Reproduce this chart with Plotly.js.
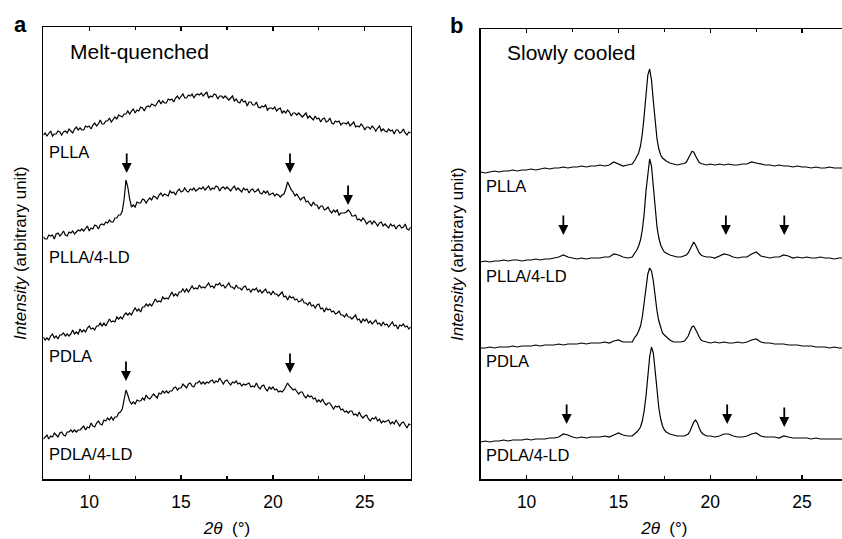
<!DOCTYPE html>
<html>
<head>
<meta charset="utf-8">
<script src="https://cdn.plot.ly/plotly-3.0.1.min.js"></script>
<style>
html,body{margin:0;padding:0;overflow:hidden;background:#fff;}
#chart{width:850px;height:539px;}
</style>
</head>
<body>
<div id="chart"></div>
<script>
// ---------- Panel a : melt-quenched (2θ in degrees, intensity in arbitrary units) ----------
const xa = [7.5,7.6,7.7,7.8,7.9,
 8.0,8.1,8.2,8.3,8.4,8.5,8.6,8.7,8.8,8.9,
 9.0,9.1,9.2,9.3,9.4,9.5,9.6,9.7,9.8,9.9,
 10.0,10.1,10.2,10.3,10.4,10.5,10.6,10.7,10.8,10.9,
 11.0,11.1,11.2,11.3,11.4,11.5,11.6,11.7,11.8,11.9,
 12.0,12.1,12.2,12.3,12.4,12.5,12.6,12.7,12.8,12.9,
 13.0,13.1,13.2,13.3,13.4,13.5,13.6,13.7,13.8,13.9,
 14.0,14.1,14.2,14.3,14.4,14.5,14.6,14.7,14.8,14.9,
 15.0,15.1,15.2,15.3,15.4,15.5,15.6,15.7,15.8,15.9,
 16.0,16.1,16.2,16.3,16.4,16.5,16.6,16.7,16.8,16.9,
 17.0,17.1,17.2,17.3,17.4,17.5,17.6,17.7,17.8,17.9,
 18.0,18.1,18.2,18.3,18.4,18.5,18.6,18.7,18.8,18.9,
 19.0,19.1,19.2,19.3,19.4,19.5,19.6,19.7,19.8,19.9,
 20.0,20.1,20.2,20.3,20.4,20.5,20.6,20.7,20.8,20.9,
 21.0,21.1,21.2,21.3,21.4,21.5,21.6,21.7,21.8,21.9,
 22.0,22.1,22.2,22.3,22.4,22.5,22.6,22.7,22.8,22.9,
 23.0,23.1,23.2,23.3,23.4,23.5,23.6,23.7,23.8,23.9,
 24.0,24.1,24.2,24.3,24.4,24.5,24.6,24.7,24.8,24.9,
 25.0,25.1,25.2,25.3,25.4,25.5,25.6,25.7,25.8,25.9,
 26.0,26.1,26.2,26.3,26.4,26.5,26.6,26.7,26.8,26.9,
 27.0,27.1,27.2,27.3,27.4,27.5];

const aPLLA = [344,346,343,346,348,
 343,345,345,348,347,344,347,348,346,350,
 348,346,350,352,349,351,349,349,353,352,
 353,350,354,356,353,355,359,355,355,358,
 358,361,357,360,362,360,364,363,362,365,
 365,368,365,368,370,366,369,368,372,371,
 368,372,373,372,375,374,373,376,379,375,
 378,376,376,380,379,380,377,381,383,380,
 382,385,381,381,384,383,385,381,384,385,
 384,386,383,385,387,381,383,382,385,384,
 380,383,383,381,383,381,379,381,383,378,
 380,377,376,380,377,378,373,377,377,374,
 374,377,372,371,373,372,374,369,371,371,
 370,372,368,370,371,366,368,366,369,367,
 363,366,366,364,366,364,362,364,366,361,
 363,361,359,363,360,361,357,360,361,357,
 358,361,356,355,358,357,358,354,356,356,
 355,357,353,355,357,352,353,352,355,353,
 349,352,352,350,353,351,348,351,353,348,
 350,348,347,350,348,349,345,349,349,346,
 347,350,346,344,347,346];

const aPLLA4LD = [242,240,240,244,243,
 244,240,245,246,243,245,248,244,243,247,
 246,248,245,247,249,248,250,248,250,253,
 248,251,250,254,253,250,254,255,254,257,
 256,259,257,257,261,261,264,264,268,280,
 299,292,280,272,274,272,277,276,276,280,
 279,276,279,281,279,283,282,280,284,286,
 283,285,284,283,288,286,287,284,288,290,
 287,288,291,288,287,290,289,291,288,290,
 291,290,292,289,291,293,289,291,290,293,
 292,288,291,292,290,292,290,288,291,293,
 289,291,289,287,291,289,290,286,289,290,
 287,288,290,286,285,288,286,288,284,285,
 286,283,285,284,282,284,285,290,297,293,
 289,287,283,285,282,279,281,282,277,278,
 275,273,277,274,274,270,273,273,269,270,
 272,268,266,269,267,269,264,266,266,266,
 267,269,267,263,263,264,259,260,258,261,
 259,255,257,258,255,258,256,253,256,257,
 253,255,253,251,255,253,254,250,253,254,
 251,252,255,250,249,252];

const aPDLA = [142,139,141,139,143,
 145,141,143,140,144,144,146,143,145,143,
 145,149,145,147,145,150,147,149,147,151,
 153,150,151,149,153,153,156,153,156,153,
 156,160,157,158,157,162,160,162,160,164,
 166,164,166,164,168,171,168,170,167,172,
 172,175,173,175,173,176,180,177,178,177,
 182,180,181,180,184,187,183,185,183,187,
 187,190,187,190,187,190,193,190,191,190,
 194,191,192,191,194,196,192,193,191,195,
 194,196,193,194,191,193,196,192,192,190,
 194,191,191,189,192,193,189,190,187,190,
 189,191,187,189,186,188,190,186,187,184,
 188,185,185,183,185,187,182,183,179,183,
 181,182,179,180,177,178,180,176,176,174,
 177,173,174,171,174,175,170,171,167,171,
 169,170,167,168,165,166,168,164,164,162,
 165,162,162,160,162,164,159,160,156,160,
 158,160,156,158,155,157,159,155,156,153,
 157,154,155,152,155,157,153,154,150,154,
 153,155,152,153,150,152];

const aPDLA4LD = [40,42,44,40,43,
 42,46,44,42,46,47,44,43,47,47,
 49,47,49,47,49,49,51,53,49,52,
 51,56,53,52,56,58,55,54,59,58,
 61,59,62,59,62,62,66,67,70,78,
 89,84,78,75,77,75,79,78,78,81,
 79,84,81,80,83,85,83,81,86,85,
 88,86,88,86,88,88,91,92,89,91,
 91,95,93,91,95,96,93,92,96,96,
 98,95,97,95,97,96,98,99,96,98,
 97,101,98,95,98,99,96,94,97,96,
 98,95,96,93,95,94,95,96,92,93,
 92,96,92,90,93,94,90,88,92,90,
 92,89,90,87,88,87,89,92,96,93,
 91,89,90,87,85,87,87,83,81,84,
 82,83,80,81,77,79,77,80,76,74,
 76,76,73,70,73,72,73,69,70,67,
 68,66,68,68,64,65,63,67,63,61,
 63,64,60,58,61,60,62,58,60,56,
 58,57,58,59,55,57,55,59,56,53,
 56,57,54,51,55,54];

// ---------- Panel b : slowly cooled ----------
const xb = [7.5,7.75,8.0,8.25,8.5,8.75,9.0,9.25,9.5,9.75,10.0,10.25,10.5,10.75,11.0,11.25,11.5,11.75,
 12.0,12.25,12.5,12.75,13.0,13.25,13.5,13.75,14.0,14.25,14.5,14.75,15.0,15.25,15.5,15.75,
 15.9,16.0,16.1,16.2,16.3,16.4,16.5,16.6,16.7,16.8,16.9,17.0,17.1,17.2,17.3,17.4,17.5,17.6,
 17.8,18.0,18.2,18.4,
 18.6,18.7,18.8,18.9,19.0,19.1,19.2,19.3,19.4,19.5,19.6,
 19.8,20.0,20.25,20.5,20.75,21.0,21.25,21.5,21.75,22.0,22.25,22.5,22.75,23.0,23.25,23.5,23.75,
 24.0,24.25,24.5,24.75,25.0,25.25,25.5,25.75,26.0,26.25,26.5,26.75,27.0,27.25];

const bPLLA = [307,306,307,308,307,308,308,309,308,309,309,310,309,310,311,310,311,311,
 312,311,312,312,313,312,313,313,314,313,314,317,315,313,314,315,
 319,322,326,333,345,363,386,404,410,399,378,356,340,330,324,321,319,318,
 316,315,314,315,
 315.5,317,320,324,327.5,327,323,319,316.5,315.5,315,
 314,315,314,315,314,315,314,314,315,315,317,316,315,314,314,313,314,
 313,313,312,313,312,312,311,312,311,311,312,311,311,311];

const bPLLA4LD = [217,218,217,218,218,219,218,219,219,218,219,219,220,219,220,220,221,222,
 224,222,221,220,221,220,221,221,221,222,222,225,224,222,221,222,
 226,229,233,239,249,265,288,308,320,313,294,270,252,241,234,230,227,226,
 224,223,222,222,
 223,224,226,230,234,237,234,230,226,224,223,
 222,222,221,223,225,224,222,221,222,222,225,227,223,222,221,222,222,
 224,223,221,222,221,222,221,221,222,221,221,220,221,221];

const bPDLA = [131,131,132,131,132,132,132,133,132,133,133,133,134,133,134,134,134,135,
 134,135,135,135,136,135,136,136,136,137,136,138,139,137,137,137,
 142,144,148,153,162,176,192,205,211,208,198,182,168,158,151,146,144,142,
 139,137,137,137,
 138,140,143,148,152,153,150,146,142,139,138,
 137,136,137,136,137,136,136,137,136,137,139,140,137,136,136,135,135,
 135,134,134,134,133,133,133,132,132,132,131,132,131,131];

const bPDLA4LD = [37,38,37,38,38,39,38,39,39,39,40,39,40,40,40,41,41,42,
 45,44,42,41,42,41,42,42,42,43,42,44,46,44,43,43,
 45,47,49,52,58,68,83,104,122,132,126,108,87,71,60,53,49,47,
 45,44,43,43,
 43,44,45,48,52,57,59,56,51,47,45,
 43,43,42,43,45,45,43,42,42,43,45,46,43,42,42,42,41,
 43,42,41,41,41,41,40,41,40,40,40,40,40,40];

const sampleNames = ['PLLA', 'PLLA/4-LD', 'PDLA', 'PDLA/4-LD'];
const panelTitles = ['Melt-quenched', 'Slowly cooled'];
const panelLetters = ['a', 'b'];
// arrow marks (2θ, intensity at arrow tip)
const arrowsA = [[12.04, 306], [20.93, 306], [24.09, 274], [12.0, 98], [20.93, 106]];
const arrowsB = [[12.0, 244], [20.85, 244], [24.03, 244], [12.18, 55], [20.92, 55], [24.03, 52]];
// label anchor intensities for sample names
const labelYA = [327, 222, 123, 25];
const labelYB = [293, 203, 118, 24];

const FONT = 'Liberation Sans, Arial, Helvetica, sans-serif';
const lineStyle = {color: '#000', width: 1.2};

const traces = [];
[aPLLA, aPLLA4LD, aPDLA, aPDLA4LD].forEach((ys, i) => {
  traces.push({x: xa, y: ys, xaxis: 'x', yaxis: 'y', type: 'scatter', mode: 'lines',
    line: lineStyle, name: sampleNames[i], showlegend: false, hoverinfo: 'skip'});
});
[bPLLA, bPLLA4LD, bPDLA, bPDLA4LD].forEach((ys, i) => {
  traces.push({x: xb, y: ys, xaxis: 'x2', yaxis: 'y2', type: 'scatter', mode: 'lines',
    line: lineStyle, name: sampleNames[i], showlegend: false, hoverinfo: 'skip'});
});

const annotations = [];
function addLabels(xref, yref, ys, xpos) {
  ys.forEach((y, i) => annotations.push({xref: xref, yref: yref, x: xpos, y: y, text: sampleNames[i],
    showarrow: false, xanchor: 'left', yanchor: 'middle', font: {family: FONT, size: 16.5, color: '#000'}}));
}
addLabels('x', 'y', labelYA, 7.68);
addLabels('x2', 'y2', labelYB, 7.68);
function addArrows(xref, yref, list) {
  list.forEach(p => annotations.push({xref: xref, yref: yref, x: p[0], y: p[1], text: '',
    showarrow: true, arrowhead: 2, arrowsize: 1.1, arrowwidth: 1.8, arrowcolor: '#000',
    ax: 0, ay: -21, standoff: 0}));
}
addArrows('x', 'y', arrowsA);
addArrows('x2', 'y2', arrowsB);
annotations.push({xref: 'x', yref: 'y', x: 8.86, y: 427, text: panelTitles[0], showarrow: false,
  xanchor: 'left', yanchor: 'middle', font: {family: FONT, size: 21, color: '#000'}});
annotations.push({xref: 'x2', yref: 'y2', x: 8.82, y: 427, text: panelTitles[1], showarrow: false,
  xanchor: 'left', yanchor: 'middle', font: {family: FONT, size: 21, color: '#000'}});
annotations.push({xref: 'paper', yref: 'paper', x: 20/850, y: 1 - 24/539, text: '<b>' + panelLetters[0] + '</b>',
  showarrow: false, xanchor: 'center', yanchor: 'middle', font: {family: FONT, size: 22, color: '#000'}});
annotations.push({xref: 'paper', yref: 'paper', x: 457/850, y: 1 - 25/539, text: '<b>' + panelLetters[1] + '</b>',
  showarrow: false, xanchor: 'center', yanchor: 'middle', font: {family: FONT, size: 22, color: '#000'}});

function xAxis(domain, anchor) {
  return {domain: domain, anchor: anchor, range: [7.5, 27.5], tick0: 0, dtick: 5,
    ticks: 'inside', ticklen: 4, tickwidth: 1.2, tickcolor: '#000', ticklabelstandoff: 6,
    minor: {dtick: 2.5, ticks: 'inside', ticklen: 3, tickwidth: 1.2, tickcolor: '#000', showgrid: false},
    showline: true, linewidth: 1.5, linecolor: '#000', mirror: 'ticks',
    showgrid: false, zeroline: false, fixedrange: true,
    tickfont: {family: FONT, size: 17.5, color: '#000'},
    title: {text: '<i>2θ</i>\u00a0\u00a0(°)', font: {family: FONT, size: 17, color: '#000'}, standoff: 11}};
}
function yAxis(domain, anchor, range, mirror) {
  return {domain: domain, anchor: anchor, range: range, showticklabels: false, ticks: '',
    showline: true, linewidth: 1.5, linecolor: '#000', mirror: mirror,
    showgrid: false, zeroline: false, fixedrange: true,
    title: {text: '<i>Intensity</i> (arbitrary unit)', font: {family: FONT, size: 17, color: '#000'}, standoff: 11}};
}

const layout = {
  width: 850, height: 539,
  margin: {l: 0, r: 0, t: 0, b: 0},
  paper_bgcolor: '#fff', plot_bgcolor: '#fff',
  showlegend: false,
  font: {family: FONT, color: '#000', size: 17},
  xaxis: xAxis([43.3/850, 410.7/850], 'y'),
  yaxis: yAxis([1 - 479/539, 1 - 27.3/539], 'x', [0, 451.7], true),
  xaxis2: xAxis([480.7/850, 848/850], 'y2'),
  yaxis2: yAxis([1 - 479.3/539, 1 - 29/539], 'x2', [-0.3, 450], false),
  annotations: annotations
};

Plotly.newPlot('chart', traces, layout, {displayModeBar: false, staticPlot: true});
</script>
</body>
</html>
